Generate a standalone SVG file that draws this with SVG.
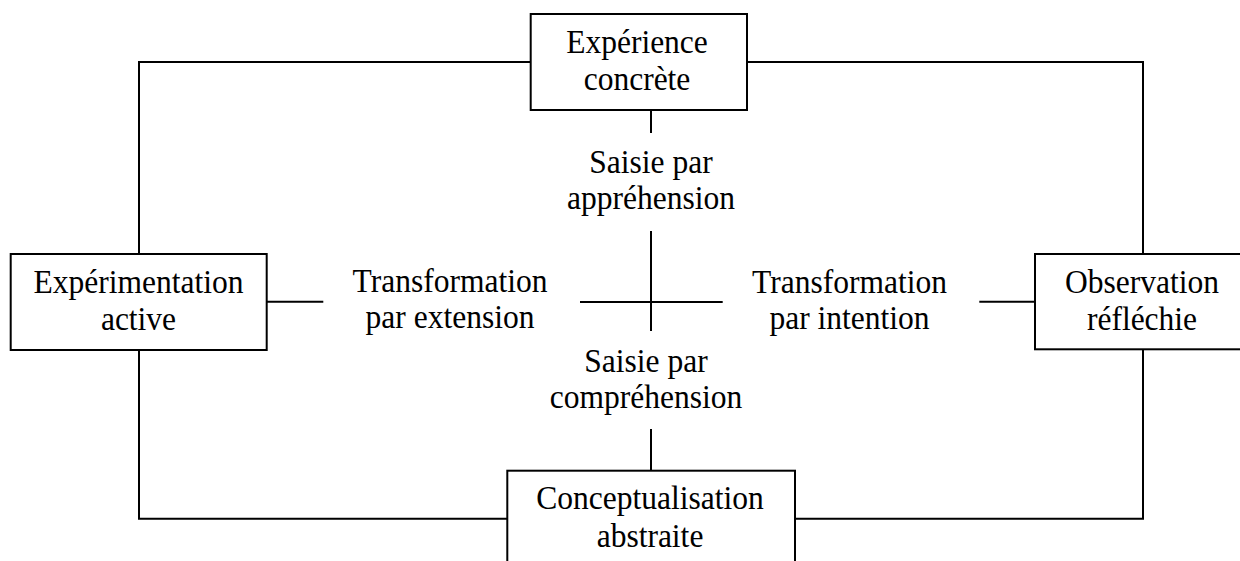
<svg xmlns="http://www.w3.org/2000/svg" width="1240" height="561" viewBox="0 0 1240 561">
<style>
.box{fill:#fff;stroke:#000;stroke-width:2}
.ln{fill:none;stroke:#000;stroke-width:2}
text{font-family:"Liberation Serif","Times New Roman",serif;font-size:34px;fill:#000;text-anchor:middle}
</style>
<rect width="1240" height="561" fill="#fff"/>
<g id="connectors">
<polyline class="ln" points="530.7,62 139,62 139,254"/>
<polyline class="ln" points="747,62 1143,62 1143,254"/>
<polyline class="ln" points="139,350 139,518.7 507.3,518.7"/>
<polyline class="ln" points="795,518.7 1143,518.7 1143,349.3"/>
<line class="ln" x1="266.7" y1="301.7" x2="323.3" y2="301.7"/>
<line class="ln" x1="979.3" y1="301.7" x2="1035" y2="301.7"/>
<line class="ln" x1="651" y1="110" x2="651" y2="133"/>
<line class="ln" x1="651" y1="231" x2="651" y2="331"/>
<line class="ln" x1="580" y1="302" x2="722.7" y2="302"/>
<line class="ln" x1="651" y1="429" x2="651" y2="470.7"/>
</g>
<g id="node-experience-concrete">
<rect class="box" x="530.7" y="14" width="216.3" height="96"/>
<text transform="translate(637 53) scale(0.927 1)">Expérience</text>
<text transform="translate(637 90) scale(0.927 1)">concrète</text>
</g>
<g id="node-experimentation-active">
<rect class="box" x="10.7" y="254" width="256" height="96"/>
<text transform="translate(138.5 293) scale(0.927 1)">Expérimentation</text>
<text transform="translate(138.5 330) scale(0.927 1)">active</text>
</g>
<g id="node-observation-reflechie">
<rect class="box" x="1035" y="254" width="216" height="95.3"/>
<text transform="translate(1142 293) scale(0.927 1)">Observation</text>
<text transform="translate(1142 330) scale(0.927 1)">réfléchie</text>
</g>
<g id="node-conceptualisation-abstraite">
<rect class="box" x="507.3" y="470.7" width="287.7" height="96"/>
<text transform="translate(650 509) scale(0.927 1)">Conceptualisation</text>
<text transform="translate(650 546.7) scale(0.927 1)">abstraite</text>
</g>
<g id="label-saisie-apprehension">
<text transform="translate(651 173) scale(0.927 1)">Saisie par</text>
<text transform="translate(651 209) scale(0.927 1)">appréhension</text>
</g>
<g id="label-transformation-extension">
<text transform="translate(450 292) scale(0.927 1)">Transformation</text>
<text transform="translate(450 328) scale(0.927 1)">par extension</text>
</g>
<g id="label-transformation-intention">
<text transform="translate(849.5 292.5) scale(0.927 1)">Transformation</text>
<text transform="translate(849.5 328.5) scale(0.927 1)">par intention</text>
</g>
<g id="label-saisie-comprehension">
<text transform="translate(646 372) scale(0.927 1)">Saisie par</text>
<text transform="translate(646 408) scale(0.927 1)">compréhension</text>
</g>
</svg>
